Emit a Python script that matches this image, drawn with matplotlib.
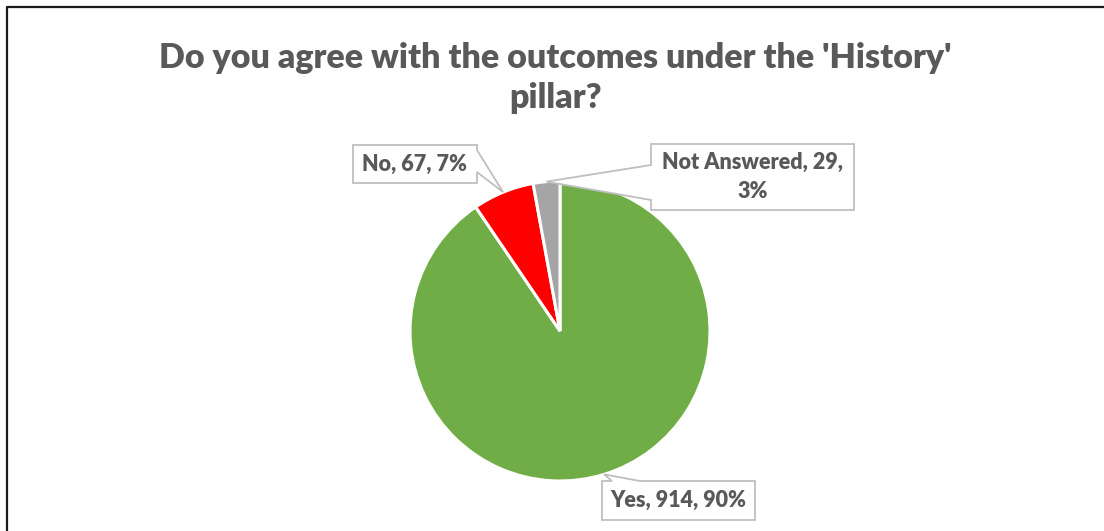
import numpy as np
import matplotlib
matplotlib.use("Agg")
import matplotlib.pyplot as plt
from matplotlib.patches import Polygon
from matplotlib.lines import Line2D
from matplotlib.transforms import IdentityTransform

# survey answers
categories = ["Yes", "No", "Not Answered"]
counts = [914, 67, 29]
colors = ["#70AD47", "#FF0000", "#A5A5A5"]
title = "Do you agree with the outcomes under the 'History'\npillar?"

W, H = 1104, 531
plt.rcParams["font.family"] = ["Lato", "DejaVu Sans"]
text_color = "#595959"

fig = plt.figure(figsize=(W / 100, H / 100), dpi=100)
fig.patch.set_facecolor("white")

# pie placed with centre at (560, 331) px, radius 150 px
cx, cy, r = 560, 331, 150
ax = fig.add_axes([(cx - r) / W, 1 - (cy + r) / H, 2 * r / W, 2 * r / H])
wedges, _ = ax.pie(counts, colors=colors, startangle=90, counterclock=False,
                   wedgeprops=dict(edgecolor="white", linewidth=2.2))
ax.set_xlim(-1, 1)
ax.set_ylim(-1, 1)
ax.set_aspect("equal")
ax.axis("off")

fig.text(0.503, 1 - 78 / H, title, ha="center", va="center", fontsize=24.5,
         fontweight="heavy", color=text_color, linespacing=1.33)

# outer frame (left and top lines only visible)
fig.add_artist(Line2D([7, 7, W], [0, H - 7, H - 7], transform=IdentityTransform(),
                      color="#1a1a1a", linewidth=1.6))

total = sum(counts)
labels = [f"{c}, {v}, {round(100 * v / total)}%" for c, v in zip(categories, counts)]

# callout boxes in pixel coords (top-left origin): box, side, base positions
callouts = [
    dict(box=(602, 481, 755, 520), side="top", base=(612, 640), text=labels[0]),
    dict(box=(353, 145, 477, 183), side="right", base=(150, 172), text=labels[1]),
    dict(box=(651, 144, 854, 210), side="left", base=(165, 200),
         text="Not Answered, 29,\n3%"),
]


def tip_point(w):
    mid = np.deg2rad((w.theta1 + w.theta2) / 2)
    x, y = ax.transData.transform((np.cos(mid), np.sin(mid)))
    return x, H - y


for w, c in zip(wedges, callouts):
    x0, y0, x1, y1 = c["box"]
    b0, b1 = c["base"]
    t = tip_point(w)
    if c["side"] == "top":
        pts = [(x0, y0), (b0, y0), t, (b1, y0), (x1, y0), (x1, y1), (x0, y1)]
    elif c["side"] == "right":
        pts = [(x0, y0), (x1, y0), (x1, b0), t, (x1, b1), (x1, y1), (x0, y1)]
    else:
        pts = [(x0, y0), (x1, y0), (x1, y1), (x0, y1), (x0, b1), t, (x0, b0)]
    pts = [(px, H - py) for px, py in pts]
    fig.add_artist(Polygon(pts, closed=True, transform=IdentityTransform(),
                           facecolor="white", edgecolor="#BFBFBF", linewidth=1.3))
    fig.text((x0 + x1) / 2 / W, 1 - (y0 + y1) / 2 / H, c["text"], ha="center",
             va="center", fontsize=15.5, fontweight="heavy", color=text_color,
             linespacing=1.5)

fig.savefig("out.png", dpi=100, facecolor="white")
